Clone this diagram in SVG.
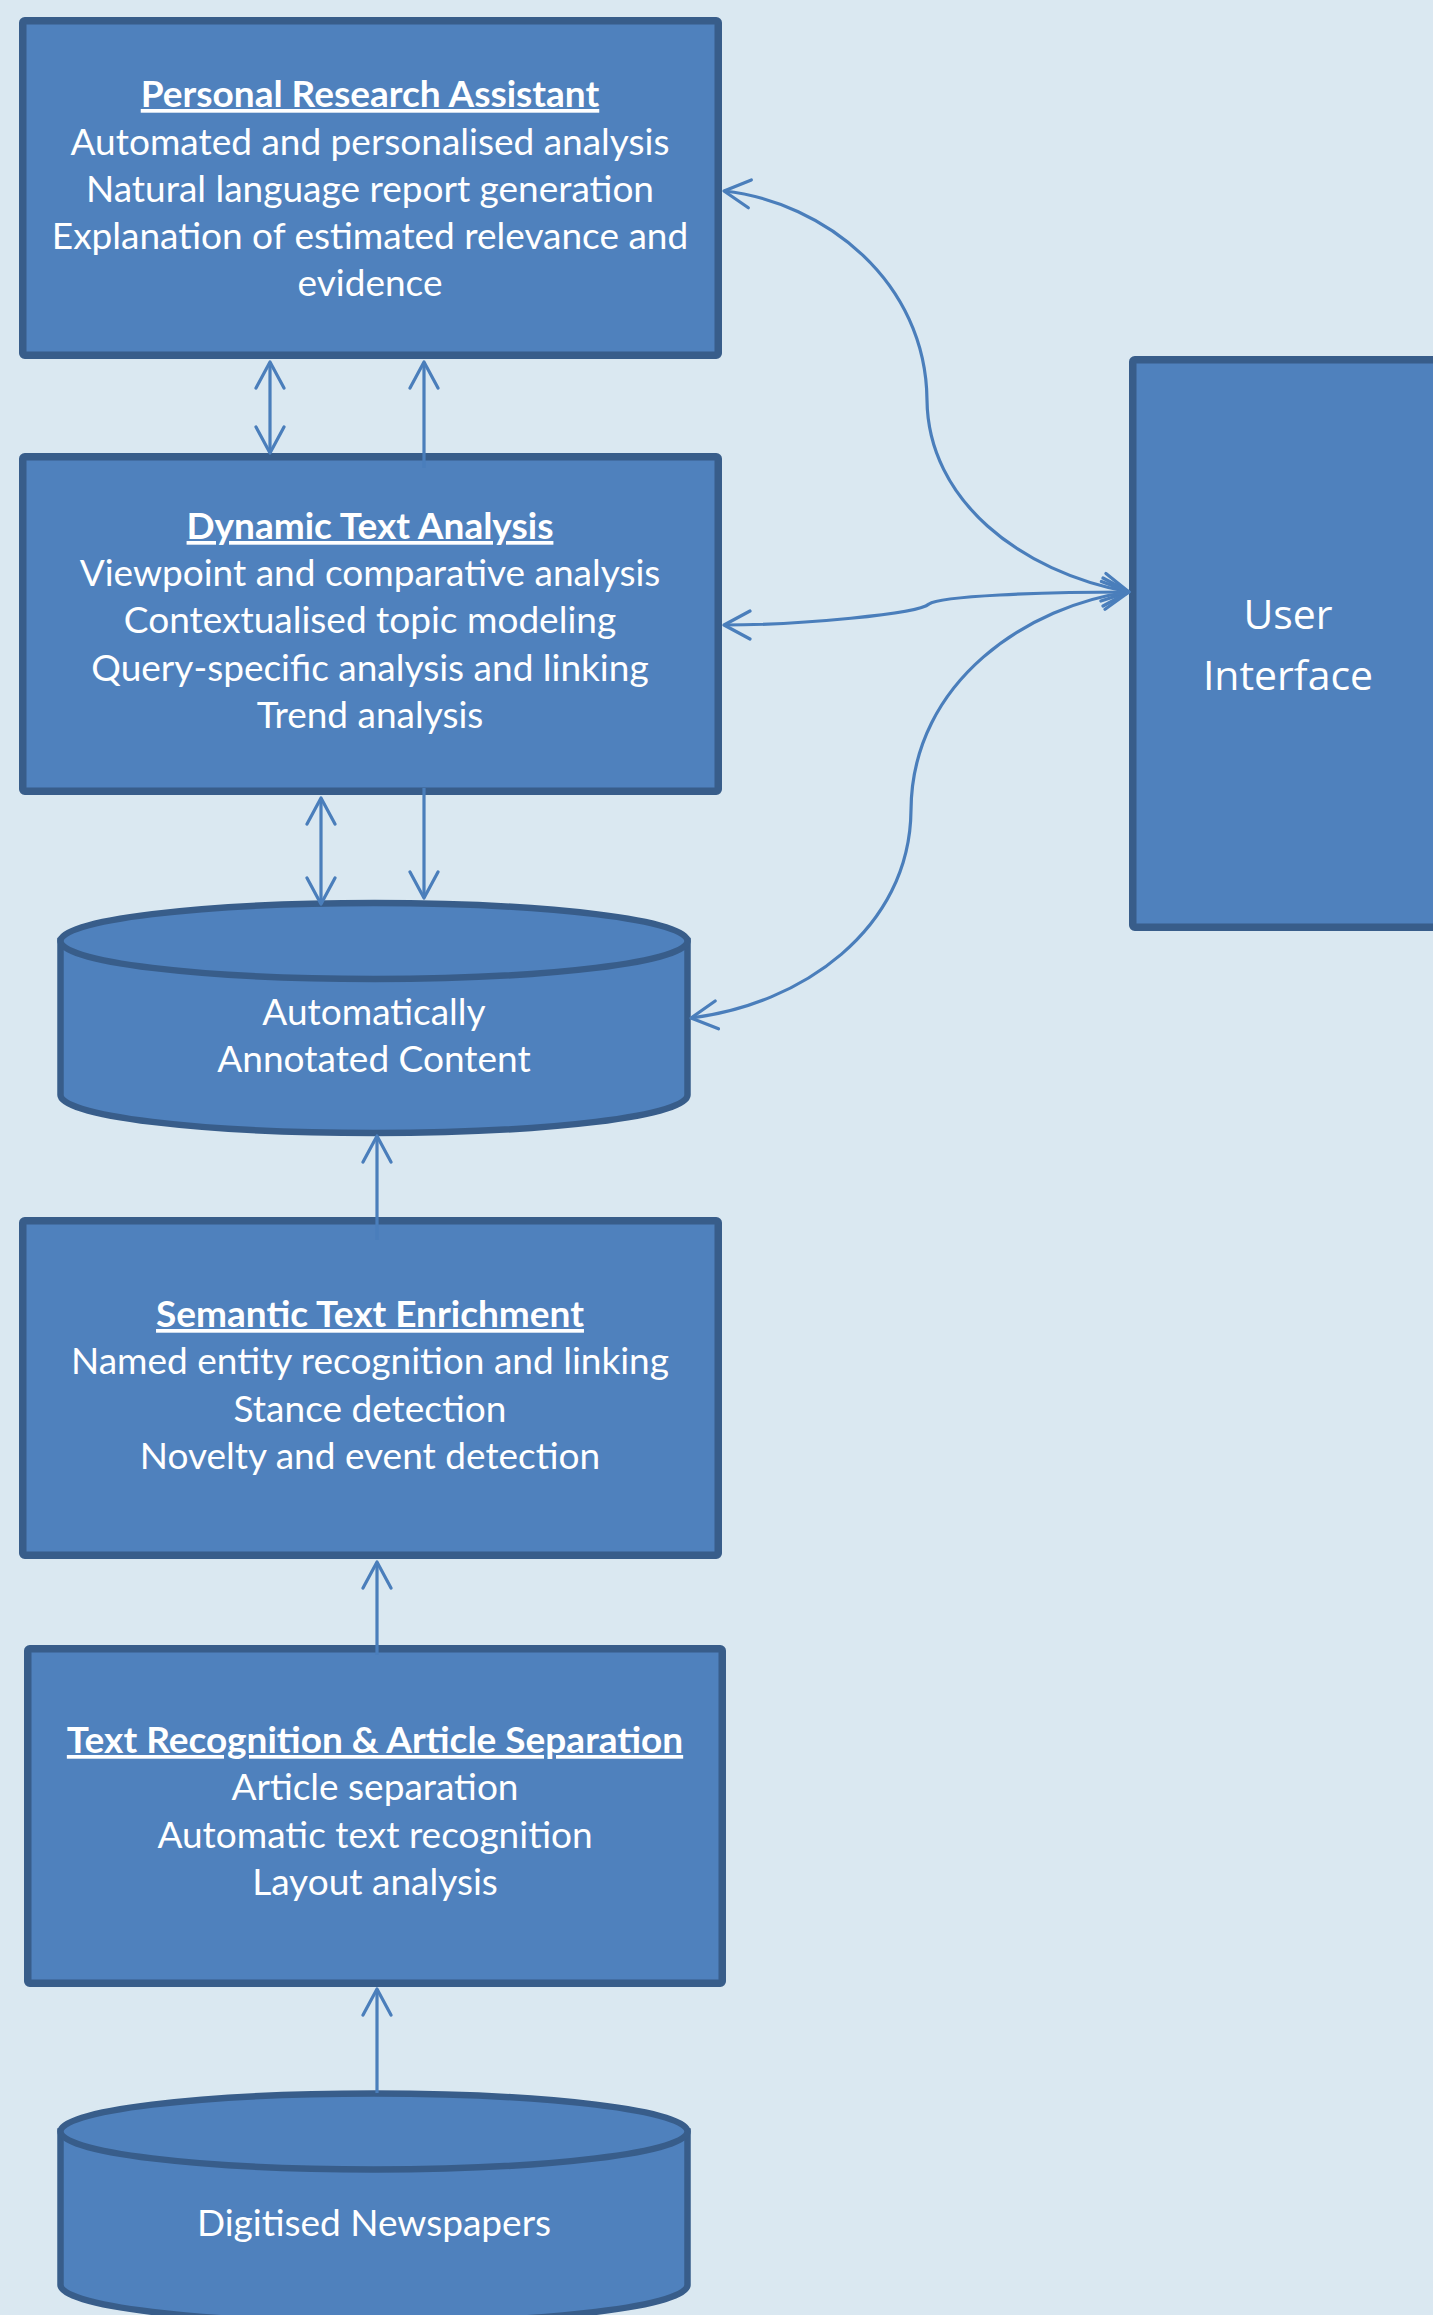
<svg xmlns="http://www.w3.org/2000/svg" width="1433" height="2315" viewBox="0 0 1433 2315">
<style>
.bg{fill:#dae8f1}
.box{fill:#4f81bd;stroke:#385d8a;stroke-width:7.5}
.cyl{fill:#4f81bd;stroke:#385d8a;stroke-width:6.5}
.t{font-family:Lato,"Open Sans","Liberation Sans",sans-serif;font-size:37px;fill:#ffffff;text-anchor:middle}
.h{font-weight:bold;text-decoration:underline}
.ui{font-family:"Open Sans","Noto Sans","Liberation Sans",sans-serif;font-size:41px;fill:#ffffff;text-anchor:middle}
.c{fill:none;stroke:#4a7ebb;stroke-width:3.2}
</style>
<defs>
<marker id="ah" markerUnits="userSpaceOnUse" markerWidth="30" markerHeight="32" viewBox="0 0 30 32" refX="28" refY="16" orient="auto-start-reverse">
<path d="M2,2 L28,16 L2,30" fill="none" stroke="#4a7ebb" stroke-width="3.2" stroke-linecap="round" stroke-linejoin="round"/>
</marker>
</defs>
<rect class="bg" x="0" y="0" width="1433" height="2315"/>

<g id="personal-research-assistant">
<rect class="box" x="22.75" y="20.75" width="695.5" height="334.5" rx="2"/>
<text class="t h" x="370" y="107">Personal Research Assistant</text>
<text class="t" x="370" y="154.5">Automated and personalised analysis</text>
<text class="t" x="370" y="201.5">Natural language report generation</text>
<text class="t" x="370" y="248.5">Explanation of estimated relevance and</text>
<text class="t" x="370" y="295.5">evidence</text>
</g>

<g id="dynamic-text-analysis">
<rect class="box" x="22.75" y="456.75" width="695.5" height="334.5" rx="2"/>
<text class="t h" x="370" y="539">Dynamic Text Analysis</text>
<text class="t" x="370" y="586">Viewpoint and comparative analysis</text>
<text class="t" x="370" y="633">Contextualised topic modeling</text>
<text class="t" x="370" y="680.5">Query-specific analysis and linking</text>
<text class="t" x="370" y="728">Trend analysis</text>
</g>

<g id="annotated-content">
<path class="cyl" d="M60.5,941 L60.5,1095 A313.5 38 0 0 0 687.5,1095 L687.5,941 Z"/>
<ellipse class="cyl" cx="374" cy="941" rx="313.5" ry="38"/>
<text class="t" x="374" y="1025">Automatically</text>
<text class="t" x="374" y="1072">Annotated Content</text>
</g>

<g id="semantic-text-enrichment">
<rect class="box" x="22.75" y="1220.75" width="695.5" height="334.5" rx="2"/>
<text class="t h" x="370" y="1327">Semantic Text Enrichment</text>
<text class="t" x="370" y="1374">Named entity recognition and linking</text>
<text class="t" x="370" y="1421.5">Stance detection</text>
<text class="t" x="370" y="1469">Novelty and event detection</text>
</g>

<g id="text-recognition">
<rect class="box" x="27.75" y="1648.75" width="694.5" height="334.5" rx="2"/>
<text class="t h" x="375" y="1753">Text Recognition &amp; Article Separation</text>
<text class="t" x="375" y="1800">Article separation</text>
<text class="t" x="375" y="1847.5">Automatic text recognition</text>
<text class="t" x="375" y="1895">Layout analysis</text>
</g>

<g id="digitised-newspapers">
<path class="cyl" d="M60.5,2131.5 L60.5,2285 A313.5 38 0 0 0 687.5,2285 L687.5,2131.5 Z"/>
<ellipse class="cyl" cx="374" cy="2131.5" rx="313.5" ry="38"/>
<text class="t" x="374" y="2236">Digitised Newspapers</text>
</g>

<g id="user-interface">
<rect class="box" x="1132.75" y="359.75" width="330" height="567.5" rx="2"/>
<text class="ui" x="1288" y="629">User</text>
<text class="ui" x="1288" y="690">Interface</text>
</g>

<g id="connectors">
<line class="c" x1="270" y1="362" x2="270" y2="453" marker-start="url(#ah)" marker-end="url(#ah)"/>
<line class="c" x1="424" y1="468" x2="424" y2="362" marker-end="url(#ah)"/>
<line class="c" x1="321" y1="798" x2="321" y2="904" marker-start="url(#ah)" marker-end="url(#ah)"/>
<line class="c" x1="424" y1="788" x2="424" y2="898" marker-end="url(#ah)"/>
<line class="c" x1="377" y1="1240" x2="377" y2="1136" marker-end="url(#ah)"/>
<line class="c" x1="377" y1="1655" x2="377" y2="1562" marker-end="url(#ah)"/>
<line class="c" x1="377" y1="2093" x2="377" y2="1989" marker-end="url(#ah)"/>
<path class="c" d="M1129,592 C1020,572 928,500 927,400 C926,282 825,202 724,191" marker-start="url(#ah)" marker-end="url(#ah)"/>
<path class="c" d="M1129,592 C1040,592 940,596 929,604 C918,614 800,625 724,625" marker-start="url(#ah)" marker-end="url(#ah)"/>
<path class="c" d="M1129,592 C1030,605 912,680 911,810 C910,930 800,1005 691,1018" marker-start="url(#ah)" marker-end="url(#ah)"/>
</g>
</svg>
